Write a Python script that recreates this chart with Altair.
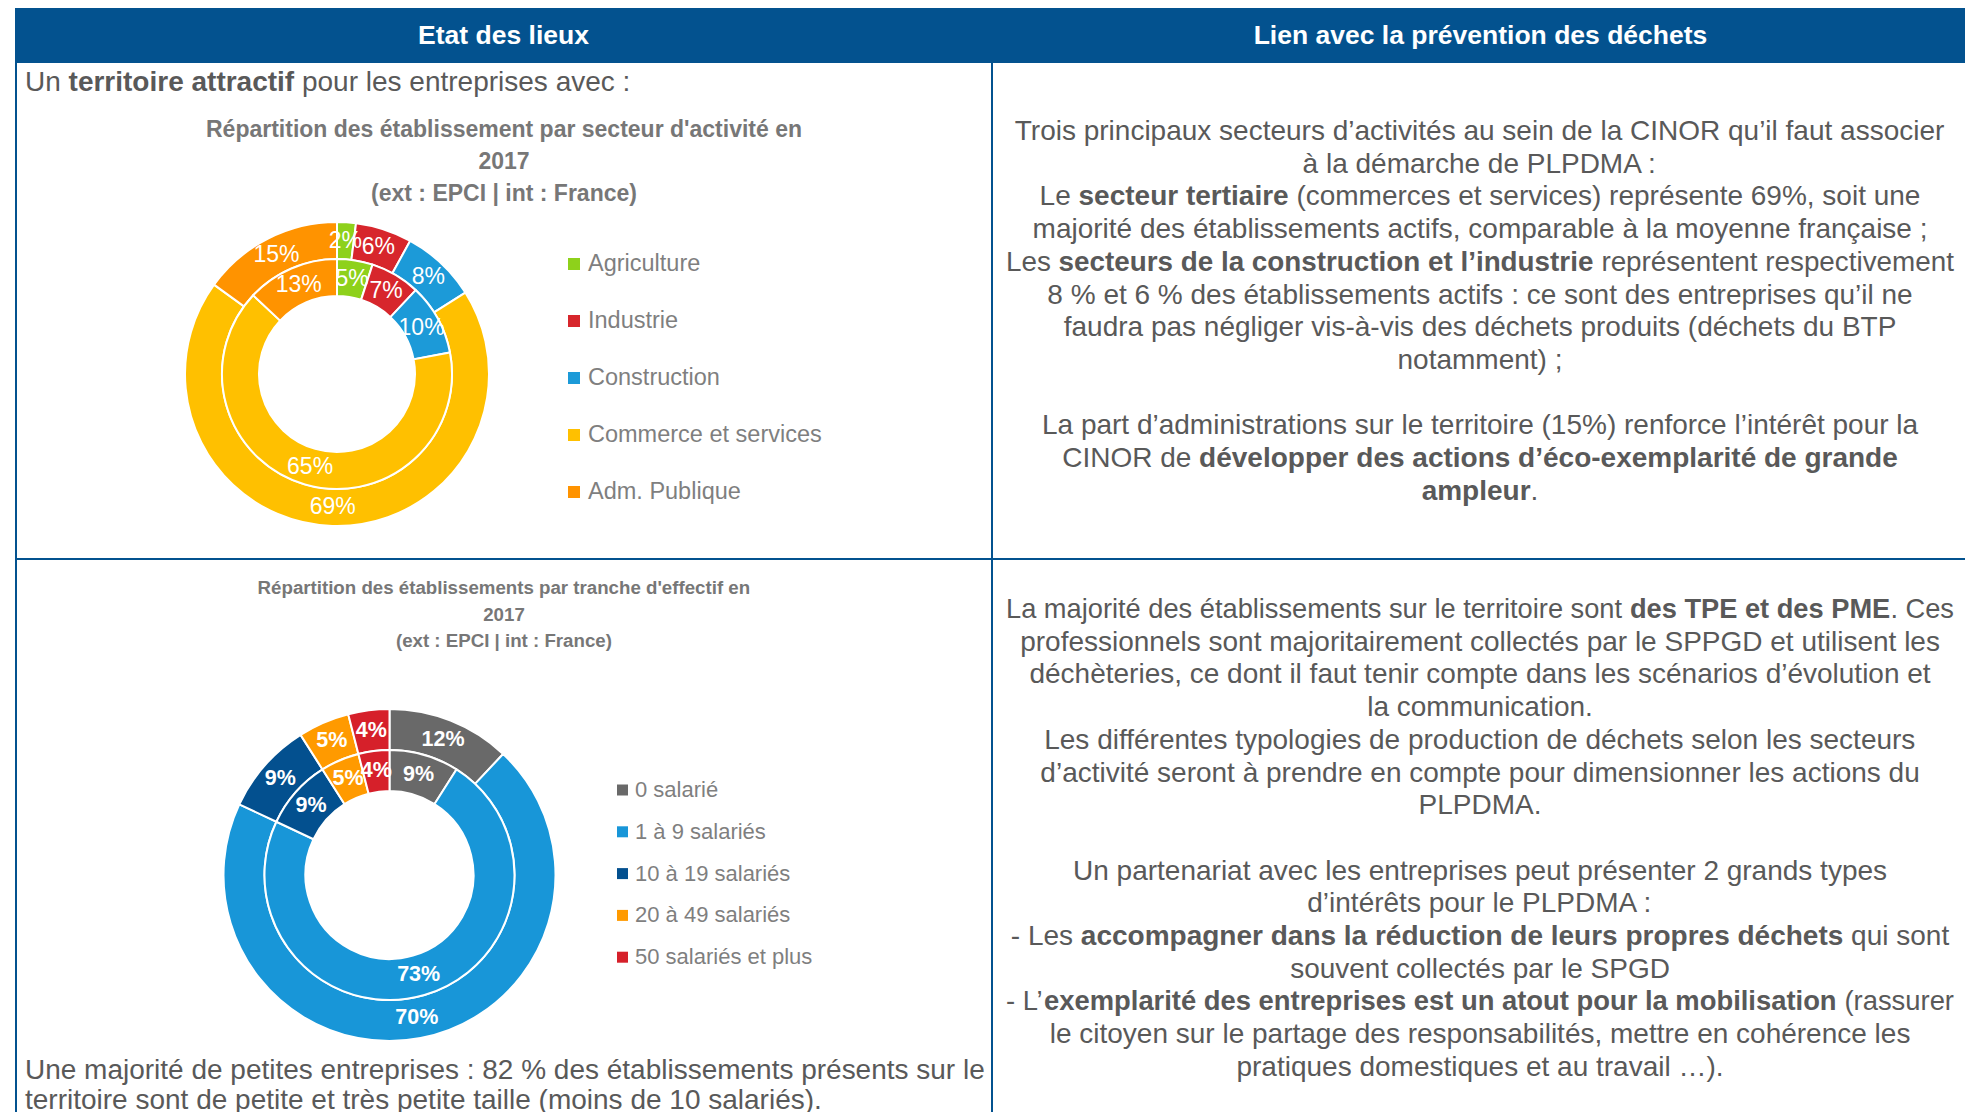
import unicodedata
import altair as alt
import pandas as pd

# ------------------------------------------------------------------ data
sector_labels = ["Agriculture", "Industrie", "Construction", "Commerce et services", "Adm. Publique"]
sector_epci = [2, 6, 8, 69, 15]      # outer ring (EPCI)
sector_france = [5, 7, 10, 65, 13]   # inner ring (France)
sector_colors = ["#8ED11B", "#D7262C", "#1C9AD8", "#FFC000", "#FF9300"]

size_labels = ["0 salarié", "1 à 9 salariés", "10 à 19 salariés", "20 à 49 salariés", "50 salariés et plus"]
size_epci = [12, 70, 9, 5, 4]        # outer ring (EPCI)
size_france = [9, 73, 9, 5, 4]       # inner ring (France)
size_colors = ["#696969", "#1896D8", "#03508F", "#FF9A00", "#D6202A"]

header_left = "Etat des lieux"
header_right = "Lien avec la prévention des déchets"

chart1_title = ["Répartition des établissement par secteur d'activité en", "2017", "(ext : EPCI | int : France)"]
chart2_title = ["Répartition des établissements par tranche d'effectif en", "2017", "(ext : EPCI | int : France)"]

left_intro = ["Un **territoire attractif** pour les entreprises avec :"]
left_outro = [
    "Une majorité de petites entreprises : 82 % des établissements présents sur le",
    "territoire sont de petite et très petite taille (moins de 10 salariés).",
]
right_block1 = [
    "Trois principaux secteurs d’activités au sein de la CINOR qu’il faut associer",
    "à la démarche de PLPDMA :",
    "Le **secteur tertiaire** (commerces et services) représente 69%, soit une",
    "majorité des établissements actifs, comparable à la moyenne française ;",
    "Les **secteurs de la construction et l’industrie** représentent respectivement",
    "8 % et 6 % des établissements actifs : ce sont des entreprises qu’il ne",
    "faudra pas négliger vis-à-vis des déchets produits (déchets du BTP",
    "notamment) ;",
    "",
    "La part d’administrations sur le territoire (15%) renforce l’intérêt pour la",
    "CINOR de **développer des actions d’éco-exemplarité de grande**",
    "**ampleur**.",
]
right_block2 = [
    "La majorité des établissements sur le territoire sont **des TPE et des PME**. Ces",
    "professionnels sont majoritairement collectés par le SPPGD et utilisent les",
    "déchèteries, ce dont il faut tenir compte dans les scénarios d’évolution et",
    "la communication.",
    "Les différentes typologies de production de déchets selon les secteurs",
    "d’activité seront à prendre en compte pour dimensionner les actions du",
    "PLPDMA.",
    "",
    "Un partenariat avec les entreprises peut présenter 2 grands types",
    "d’intérêts pour le PLPDMA :",
    "- Les **accompagner dans la réduction de leurs propres déchets** qui sont",
    "souvent collectés par le SPGD",
    "- L’**exemplarité des entreprises est un atout pour la mobilisation** (rassurer",
    "le citoyen sur le partage des responsabilités, mettre en cohérence les",
    "pratiques domestiques et au travail …).",
]

# ------------------------------------------------------------------ styling / layout
W, H = 1957, 1104
FONT = "Liberation Sans"
BLUE = "#03528F"
TEXT = "#595959"
GREY = "#777777"
LEG = "#7F7F7F"

# Liberation Sans (Arial-compatible) advance widths, per 1000 em
REG_W, BOLD_W = {}, {}


def _fill(d, chars, w):
    for c in chars:
        d[c] = w


_fill(REG_W, "abdeghnopqu0123456789?$#L", 556)
_fill(REG_W, "cksvxyzJ", 500)
_fill(REG_W, "ijl’", 222)
_fill(REG_W, "ft ,./:;!I", 278)
_fill(REG_W, "r()-", 333)
_fill(REG_W, "mM", 833)
_fill(REG_W, "wCDHNRU", 722)
_fill(REG_W, "ABEKPSVXY&", 667)
_fill(REG_W, "FTZ", 611)
_fill(REG_W, "GOQ", 778)
_fill(REG_W, "W", 944)
_fill(REG_W, "%", 889)
_fill(REG_W, "'", 191)
_fill(REG_W, "|", 260)
_fill(REG_W, "…", 1000)

_fill(BOLD_W, "acekvsxy0123456789J?", 556)
_fill(BOLD_W, "bdghnopquFTZL", 611)
_fill(BOLD_W, "ijl ,./I’", 278)
_fill(BOLD_W, "ft()-:;!", 333)
_fill(BOLD_W, "r", 389)
_fill(BOLD_W, "m%", 889)
_fill(BOLD_W, "wGOQ", 778)
_fill(BOLD_W, "z", 500)
_fill(BOLD_W, "ABCDHKNRU", 722)
_fill(BOLD_W, "EPSVXY", 667)
_fill(BOLD_W, "M", 833)
_fill(BOLD_W, "W", 944)
_fill(BOLD_W, "'", 238)
_fill(BOLD_W, "|", 280)
_fill(BOLD_W, "…", 1000)


def text_width(s, bold, size):
    table = BOLD_W if bold else REG_W
    total = 0
    for ch in s:
        base = unicodedata.normalize("NFD", ch)[0]
        total += table.get(ch, table.get(base, 556))
    return total * size / 1000.0


def parse(line):
    parts = line.split("**")
    return [(p, i % 2 == 1) for i, p in enumerate(parts) if p]


def layout(lines, x, y0, dy, size, align, all_bold=False, max_w=None):
    rows = []
    for i, line in enumerate(lines):
        if not line:
            continue
        segs = [(t, True) for t, _ in parse(line)] if all_bold else parse(line)
        fs = size
        total = sum(text_width(t, b, fs) for t, b in segs)
        if max_w is not None and total > max_w:
            fs = size * max_w / total
            total = sum(text_width(t, b, fs) for t, b in segs)
        cursor = x - total / 2.0 if align == "center" else x
        for t, b in segs:
            lead = len(t) - len(t.lstrip(" "))
            content = t.strip(" ")
            if content:
                rows.append({
                    "x": cursor + text_width(" " * lead, b, fs),
                    "y": y0 + i * dy,
                    "text": content,
                    "bold": b,
                    "fs": fs,
                })
            cursor += text_width(t, b, fs)
    return rows


xs = alt.Scale(domain=[0, W], nice=False, zero=False)
ys = alt.Scale(domain=[0, H], nice=False, zero=False, reverse=True)


def text_layer(rows, color, bold):
    sel = [r for r in rows if r["bold"] == bold]
    if not sel:
        return None
    return alt.Chart(pd.DataFrame(sel)).mark_text(
        align="left", baseline="middle", font=FONT,
        fontWeight="bold" if bold else "normal", color=color,
    ).encode(
        x=alt.X("x:Q", scale=xs, axis=None),
        y=alt.Y("y:Q", scale=ys, axis=None),
        size=alt.Size("fs:Q", scale=None, legend=None),
        text="text:N",
    )


def text_layers(rows, color):
    return [c for c in (text_layer(rows, color, False), text_layer(rows, color, True)) if c is not None]


layers = []

# frame: header band and grid lines
frame = pd.DataFrame([
    {"x": 7, "x2": 1960, "y": 0, "y2": 55},       # header band
    {"x": 7, "x2": 9, "y": 55, "y2": H},          # left border
    {"x": 983, "x2": 985, "y": 55, "y2": H},      # middle divider
    {"x": 1958, "x2": 1960, "y": 55, "y2": H},    # right border
    {"x": 7, "x2": 1960, "y": 550, "y2": 552},    # horizontal divider
])
layers.append(alt.Chart(frame).mark_rect(color=BLUE).encode(
    x=alt.X("x:Q", scale=xs, axis=None), x2="x2:Q",
    y=alt.Y("y:Q", scale=ys, axis=None), y2="y2:Q"))

# header titles
hdr = layout([header_left], 495.5, 28, 0, 26.5, "center", all_bold=True) + \
    layout([header_right], 1472.5, 28, 0, 26.5, "center", all_bold=True)
layers += text_layers(hdr, "white")

# body texts
body = layout(left_intro, 17, 75, 0, 28, "left") + \
    layout(left_outro, 17, 1063, 30, 28, "left", max_w=960) + \
    layout(right_block1, 1472, 124, 32.7, 28, "center", max_w=948) + \
    layout(right_block2, 1472, 602, 32.7, 28, "center", max_w=948)
layers += text_layers(body, TEXT)

# chart titles
t1 = layout(chart1_title, 496, 122, 32, 23, "center", all_bold=True)
layers += text_layers(t1, GREY)
t2 = layout(chart2_title, 496, 580, 26.5, 18.7, "center", all_bold=True)
layers += text_layers(t2, GREY)


# donut rings
def ring(labels, values, colors, cx, cy, r_out, r_in, label_size, label_bold):
    df = pd.DataFrame({
        "idx": list(range(len(labels))),
        "label": labels,
        "value": values,
        "color": colors,
        "txt": [f"{v}%" for v in values],
    })
    base = alt.Chart(df).encode(
        theta=alt.Theta("value:Q", stack=True),
        order=alt.Order("idx:Q"),
        detail="label:N",
        x=alt.value(cx),
        y=alt.value(cy),
    )
    arc = base.mark_arc(outerRadius=r_out, innerRadius=r_in, stroke="white", strokeWidth=2).encode(
        color=alt.Color("color:N", scale=None))
    lab = base.mark_text(radius=(r_out + r_in) / 2.0, font=FONT, fontSize=label_size,
                         fontWeight="bold" if label_bold else "normal", color="white",
                         align="center", baseline="middle").encode(text="txt:N")
    return [arc, lab]


layers += ring(sector_labels, sector_epci, sector_colors, 329, 366, 152, 115, 23, False)
layers += ring(sector_labels, sector_france, sector_colors, 329, 366, 115, 78, 23, False)
layers += ring(size_labels, size_epci, size_colors, 381.5, 867, 166, 125, 21.5, True)
layers += ring(size_labels, size_france, size_colors, 381.5, 867, 125, 84, 21.5, True)


# legends
def legend(labels, colors, sx, tx, y0, dy, sq, size):
    df = pd.DataFrame({
        "label": labels,
        "color": colors,
        "sx": [sx] * len(labels),
        "tx": [tx] * len(labels),
        "y": [y0 + i * dy for i in range(len(labels))],
    })
    squares = alt.Chart(df).mark_square(size=sq * sq, opacity=1).encode(
        x=alt.X("sx:Q", scale=xs, axis=None),
        y=alt.Y("y:Q", scale=ys, axis=None),
        color=alt.Color("color:N", scale=None))
    texts = alt.Chart(df).mark_text(align="left", baseline="middle", font=FONT,
                                    fontSize=size, color=LEG).encode(
        x=alt.X("tx:Q", scale=xs, axis=None),
        y=alt.Y("y:Q", scale=ys, axis=None),
        text="label:N")
    return [squares, texts]


layers += legend(sector_labels, sector_colors, 566, 580, 256, 57, 12, 23.5)
layers += legend(size_labels, size_colors, 614.5, 627, 782, 41.8, 11, 22)

chart = alt.layer(*layers).properties(
    width=W, height=H,
    autosize=alt.AutoSizeParams(type="none"),
    padding=0,
    background="white",
).configure_view(strokeWidth=0)

chart.save("out.html", embed_options={"renderer": "svg", "actions": False})
